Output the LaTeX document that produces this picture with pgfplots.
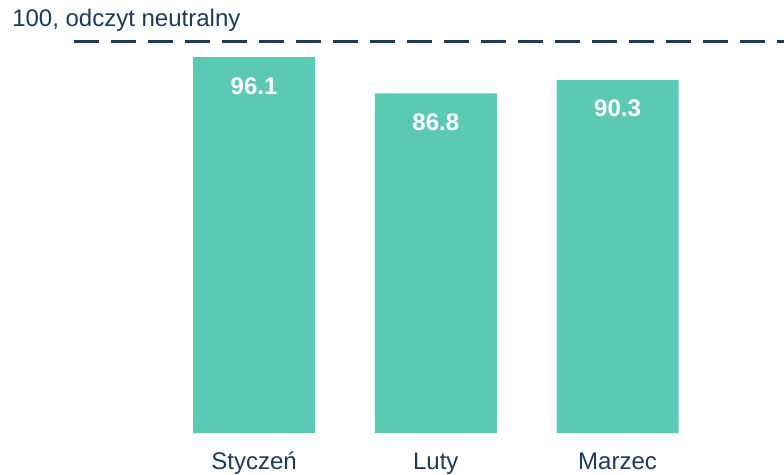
\documentclass[border=0pt]{standalone}
\usepackage{fontspec}
\setmainfont{Liberation Sans}
\usepackage{pgfplots}
\pgfplotsset{compat=1.18}
\definecolor{barteal}{HTML}{5BC9B3}
\definecolor{navy}{HTML}{1B3A5C}

\begin{document}
\begin{tikzpicture}
\begin{axis}[
    scale only axis,
    width=588pt,
    height=324.75pt,
    xmin=-1.398, xmax=2.916,
    ymin=0, ymax=110.7,
    axis line style={draw=none},
    major tick length=0pt,
    ytick=\empty,
    xtick={0,1,2},
    xticklabels={Styczeń, Luty, Marzec},
    xticklabel style={anchor=base, inner sep=0pt, yshift=-27pt,
        font=\fontsize{18}{20}\selectfont, text=navy},
    clip=false,
    /pgf/number format/assume math mode=true,
]
\addplot[ybar, bar width=91.5pt, fill=barteal, draw=none,
    nodes near coords={\bfseries\pgfmathprintnumber[fixed,precision=1,fixed zerofill]{\pgfplotspointmeta}},
    every node near coord/.append style={anchor=north, inner sep=0pt, yshift=-15pt,
        text=white, font=\fontsize{18}{20}\selectfont},
] coordinates {
    (0,96.1) (1,86.8) (2,90.3)
};
% neutral reading
\addplot[navy, line width=2.25pt, dash pattern=on 18.75pt off 9pt] coordinates {
    (-0.99,100) (2.916,100)
};
\node[anchor=base west, inner sep=0pt, text=navy, font=\fontsize{18}{20}\selectfont]
    at (axis cs:-1.332,103.8) {100, odczyt neutralny};
\end{axis}
\pgfresetboundingbox
\path (0,-30.75pt) rectangle (588pt,324.75pt);
\end{tikzpicture}
\end{document}
